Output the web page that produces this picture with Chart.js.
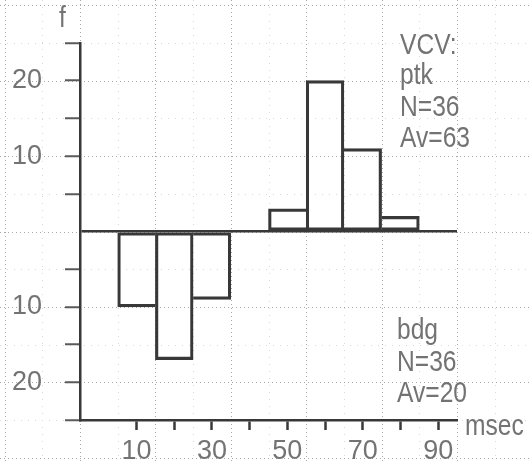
<!DOCTYPE html>
<html>
<head>
<meta charset="utf-8">
<script src="https://cdn.jsdelivr.net/npm/chart.js@4/dist/chart.umd.min.js"></script>
<style>
  html, body { margin: 0; padding: 0; background: #fff; }
  canvas { display: block; }
</style>
</head>
<body>
<canvas id="c" width="531" height="461"></canvas>
<script>
// Histogram bins (centre of each 10 msec bin)
const bins = [0, 10, 20, 30, 40, 50, 60, 70, 80, 90];
// Frequencies per bin
const ptk = [0, 0, 0, 0, 0, 3, 20, 11, 2, 0];
const bdg = [0, 10, 17, 9, 0, 0, 0, 0, 0, 0];
// Labelled ticks
const xTickLabels = [10, 30, 50, 70, 90];
const yTickLabels = [10, 20];

const INK = '#383838';
const TXT = '#737373';
const TICK = '#5a5a5a';
const FONT = '"Liberation Sans", Arial, sans-serif';
const CLEAR = 'rgba(0,0,0,0)';

function stats(values) {
  const n = values.reduce((a, b) => a + b, 0);
  const s = values.reduce((a, v, i) => a + v * bins[i], 0);
  return { n, av: Math.round(s / n) };
}
const ptkStats = stats(ptk);
const bdgStats = stats(bdg);

// Shared edges between neighbouring bars are drawn once, by the taller bar
function edgeWidths(values, w) {
  return (ctx) => {
    const i = ctx.dataIndex;
    const cur = values[i] || 0;
    const prev = i > 0 ? (values[i - 1] || 0) : 0;
    const next = i < values.length - 1 ? (values[i + 1] || 0) : 0;
    return {
      left: prev <= cur ? w : 0,
      right: next < cur ? w : 0,
      top: w,
      bottom: w
    };
  };
}

// Dotted graph-paper background, laid out along the chart's own scales
const graphPaper = {
  id: 'graphPaper',
  beforeDraw(chart) {
    const { ctx, scales: { x, y }, width, height } = chart;
    ctx.save();
    ctx.fillStyle = '#fff';
    ctx.fillRect(0, 0, width, height);
    const line = (x1, y1, x2, y2, color, dash) => {
      ctx.strokeStyle = color;
      ctx.lineWidth = 1;
      ctx.setLineDash(dash);
      ctx.beginPath();
      ctx.moveTo(x1, y1);
      ctx.lineTo(x2, y2);
      ctx.stroke();
    };
    // minor lines
    [-25, -15, -5, 5, 15, 25].forEach(v => {
      const py = Math.round(y.getPixelForValue(v)) + 0.5;
      line(0, py, width, py, '#d8d8d8', [1, 6]);
    });
    [-15, 5, 25, 45, 65, 85, 105].forEach(m => {
      const px = Math.round(x.getPixelForValue(m / 10)) + 0.5;
      line(px, 0, px, height, '#d8d8d8', [1, 6]);
    });
    // major lines
    [-30, -20, -10, 0, 10, 20, 30].forEach(v => {
      const py = Math.round(y.getPixelForValue(v)) + 0.5;
      line(0, py, width, py, '#a8a8a8', [1, 3]);
    });
    [-25, -5, 15, 35, 55, 75, 95, 115].forEach(m => {
      const px = Math.round(x.getPixelForValue(m / 10)) + 0.5;
      line(px, 0, px, height, '#a8a8a8', [1, 3]);
    });
    ctx.restore();
  }
};

// Plotter-style condensed lettering
function letter(ctx, text, x, y) {
  ctx.save();
  ctx.translate(x, y);
  ctx.scale(0.82, 1);
  ctx.fillText(text, 0, 0);
  ctx.restore();
}

const annotations = {
  id: 'annotations',
  afterDraw(chart) {
    const { ctx } = chart;
    ctx.save();
    ctx.fillStyle = TXT;
    ctx.font = '30px ' + FONT;
    ctx.textAlign = 'left';
    ctx.textBaseline = 'alphabetic';
    letter(ctx, 'f', 59, 27);
    letter(ctx, 'VCV:', 400, 54);
    letter(ctx, 'ptk', 400, 84);
    letter(ctx, 'N=' + ptkStats.n, 400, 116);
    letter(ctx, 'Av=' + ptkStats.av, 400, 147);
    letter(ctx, 'bdg', 397, 339);
    letter(ctx, 'N=' + bdgStats.n, 397, 371);
    letter(ctx, 'Av=' + bdgStats.av, 397, 402);
    letter(ctx, 'msec', 465, 435);
    ctx.restore();
  }
};

const bdgDown = bdg.map(v => -v);

new Chart(document.getElementById('c'), {
  type: 'bar',
  data: {
    labels: bins.map(String),
    datasets: [
      {
        label: 'ptk',
        data: ptk.map(v => v || null),
        backgroundColor: CLEAR,
        borderColor: INK,
        borderWidth: edgeWidths(ptk, 2.5),
        borderSkipped: false,
        barPercentage: 1,
        categoryPercentage: 1
      },
      {
        label: 'bdg',
        data: bdgDown.map(v => v || null),
        backgroundColor: CLEAR,
        borderColor: INK,
        borderWidth: edgeWidths(bdg, 2.5),
        borderSkipped: false,
        barPercentage: 1,
        categoryPercentage: 1
      }
    ]
  },
  options: {
    responsive: false,
    animation: false,
    devicePixelRatio: 1,
    layout: { padding: { left: 0, right: 74, top: 43, bottom: 0 } },
    plugins: { legend: { display: false }, tooltip: { enabled: false } },
    scales: {
      x: {
        stacked: true,
        offset: true,
        grid: {
          offset: false,
          drawOnChartArea: false,
          tickLength: 10,
          tickWidth: 2.5,
          tickColor: c => (c.index === 0 ? CLEAR : INK)
        },
        border: { color: INK, width: 2.5 },
        ticks: {
          autoSkip: false,
          maxRotation: 0,
          padding: 5,
          color: TXT,
          font: { family: FONT, size: 27 },
          callback: (v, i) => (xTickLabels.includes(bins[i]) ? String(bins[i]) : '')
        },
        afterFit: s => { s.height = 41; }
      },
      y: {
        stacked: true,
        min: -25,
        max: 25,
        ticks: {
          stepSize: 5,
          padding: 23,
          color: TXT,
          font: { family: FONT, size: 27 },
          callback: v => (yTickLabels.includes(Math.abs(v)) ? String(Math.abs(v)) : '')
        },
        grid: {
          drawOnChartArea: true,
          color: c => (c.tick && c.tick.value === 0 ? INK : CLEAR),
          lineWidth: 2.5,
          tickLength: 15,
          tickWidth: 2,
          tickColor: c => (c.tick && c.tick.value === 0 ? CLEAR : TICK)
        },
        border: { color: INK, width: 2.5 },
        afterFit: s => { s.width = 80; }
      }
    }
  },
  plugins: [graphPaper, annotations]
});
</script>
</body>
</html>
